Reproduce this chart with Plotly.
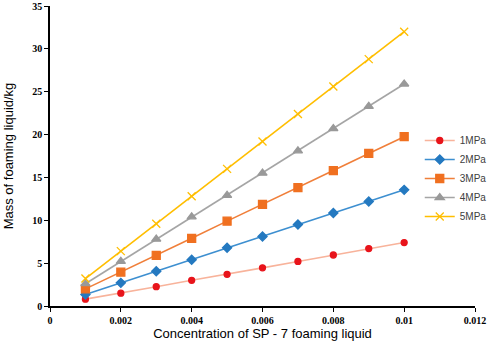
import plotly.graph_objects as go

concentration = [0.001, 0.002, 0.003, 0.004, 0.005, 0.006, 0.007, 0.008, 0.009, 0.010]
mass_1mpa = [0.8, 1.5, 2.25, 3.0, 3.7, 4.45, 5.2, 5.95, 6.7, 7.4]
mass_2mpa = [1.35, 2.7, 4.05, 5.4, 6.8, 8.1, 9.5, 10.85, 12.2, 13.55]
mass_3mpa = [2.0, 3.95, 5.9, 7.9, 9.9, 11.85, 13.8, 15.8, 17.8, 19.75]
mass_4mpa = [2.6, 5.2, 7.8, 10.4, 12.9, 15.5, 18.1, 20.7, 23.3, 25.9]
mass_5mpa = [3.2, 6.4, 9.6, 12.8, 16.0, 19.2, 22.4, 25.6, 28.8, 32.0]

x_ticks = [0, 0.002, 0.004, 0.006, 0.008, 0.01, 0.012]
x_tick_labels = ["0", "0.002", "0.004", "0.006", "0.008", "0.01", "0.012"]
y_ticks = [0, 5, 10, 15, 20, 25, 30, 35]

series = [
    ("1MPa", mass_1mpa, "#F8B39B", "#E8141B", "circle", 6),
    ("2MPa", mass_2mpa, "#3D8FD0", "#2479C0", "diamond", 7),
    ("3MPa", mass_3mpa, "#F07F3A", "#F07020", "square", 8),
    ("4MPa", mass_4mpa, "#A5A5A5", "#999999", "triangle-up", 8),
    ("5MPa", mass_5mpa, "#FFBE00", "#FFBE00", "x-thin", 8),
]

fig = go.Figure()
for name, vals, lc, mc, sym, sz in series:
    fig.add_trace(go.Scatter(
        x=concentration, y=vals, name=name, mode="lines+markers",
        line=dict(color=lc, width=1.6),
        marker=dict(color=mc, symbol=sym, size=sz,
                    line=dict(color=mc, width=1.3)),
    ))

fig.update_layout(
    width=498, height=344,
    margin=dict(l=50, r=12, t=6, b=38),
    paper_bgcolor="white", plot_bgcolor="white",
    showlegend=True,
    legend=dict(x=0.87, y=0.60, xanchor="left", yanchor="top",
                font=dict(family="Liberation Sans", size=10, color="#404040"),
                bgcolor="rgba(0,0,0,0)", tracegroupgap=0, itemwidth=30),
)
fig.update_xaxes(
    range=[0, 0.012], tickvals=x_ticks, ticktext=x_tick_labels,
    automargin=False, ticklabeloverflow="allow",
    showgrid=False, zeroline=False, showline=True, linecolor="black", linewidth=1.5,
    ticks="outside", ticklen=4, tickcolor="black",
    tickfont=dict(family="Liberation Serif", size=10, color="black", weight="bold"),
    title=dict(text="Concentration of SP - 7 foaming liquid",
               font=dict(family="Liberation Sans", size=13, color="black"), standoff=4),
)
fig.update_yaxes(
    range=[0, 35], tickvals=y_ticks,
    automargin=False, ticklabeloverflow="allow",
    showgrid=False, zeroline=False, showline=True, linecolor="black", linewidth=1.5,
    ticks="outside", ticklen=4, tickcolor="black",
    tickfont=dict(family="Liberation Serif", size=10, color="black", weight="bold"),
    title=dict(text="Mass of foaming liquid/kg",
               font=dict(family="Liberation Sans", size=13, color="black"), standoff=16),
)

fig.write_html("out.html", config={"displayModeBar": False},
               post_script="document.body.style.margin='0';")
